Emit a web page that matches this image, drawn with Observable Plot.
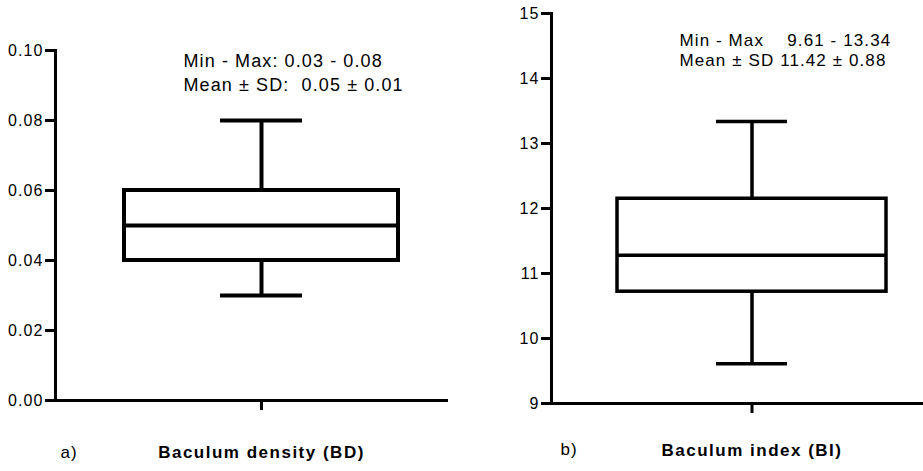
<!DOCTYPE html>
<html>
<head>
<meta charset="utf-8">
<script src="https://cdn.jsdelivr.net/npm/d3@7"></script>
<script src="https://cdn.jsdelivr.net/npm/@observablehq/plot@0.6"></script>
<style>
  html, body { margin: 0; padding: 0; background: #fff; }
  #wrap { display: flex; width: 923px; height: 471px; }
  #wrap svg { display: block; }
  svg text { letter-spacing: 1.1px; }
  g[font-weight="bold"] text { letter-spacing: 1.5px; }
</style>
</head>
<body>
<div id="wrap"></div>
<script>
// ---- data ----
const panelLabels = ["Baculum density (BD)", "Baculum index (BI)"];
const panelLetters = ["a)", "b)"];
// box summary: [min, q1, median, q3, max]
const bdBox = [0.03, 0.04, 0.05, 0.06, 0.08];
const biBox = [9.61, 10.72, 11.28, 12.15, 13.34];
const bdTicks = [0, 0.02, 0.04, 0.06, 0.08, 0.10];
const biTicks = [9, 10, 11, 12, 13, 14, 15];
const bdNote = ["Min - Max: 0.03 - 0.08", "Mean ± SD:\u00a0 0.05 ± 0.01"];
const biNote = ["Min - Max\u00a0\u00a0\u00a0 9.61 - 13.34", "Mean ± SD 11.42 ± 0.88"];

const font = "Arial, 'Liberation Sans', Helvetica, sans-serif";
const TK = 10; // y tick length

function boxPanel(cfg) {
  const [mn, q1, md, q3, mx] = cfg.box;
  const row = [{cat: cfg.label, mn, q1, md, q3, mx}];
  const ml = cfg.ml - TK; // frame starts where the y ticks start
  const frameW = cfg.width - ml - cfg.mr;
  return Plot.plot({
    width: cfg.width, height: 471,
    marginLeft: ml, marginRight: cfg.mr, marginTop: cfg.mt, marginBottom: cfg.mb,
    style: {fontFamily: font, fontSize: "16px", background: "white", color: "black"},
    x: {type: "band", domain: [cfg.label], padding: cfg.pad, insetLeft: cfg.inset + TK, label: null},
    y: {domain: cfg.domain, label: null},
    marks: [
      Plot.axisY({ticks: cfg.ticks, tickFormat: cfg.fmt, tickSize: 0, tickPadding: 2, fontSize: 16, label: null}),
      Plot.frame({anchor: "left", insetLeft: TK, stroke: "black", strokeWidth: 3}),
      Plot.ruleY([cfg.domain[0]], {stroke: "black", strokeWidth: 3, insetLeft: TK}),
      Plot.axisX({tickSize: 10, stroke: "black", strokeWidth: 3, tickFormat: () => "", label: null}),
      Plot.ruleX(row, {x: "cat", y1: "q3", y2: "mx", strokeWidth: cfg.sw}),
      Plot.ruleX(row, {x: "cat", y1: "mn", y2: "q1", strokeWidth: cfg.sw}),
      Plot.tickY(row, {x: "cat", y: "mx", strokeWidth: cfg.sw, insetLeft: cfg.capInset, insetRight: cfg.capInset}),
      Plot.tickY(row, {x: "cat", y: "mn", strokeWidth: cfg.sw, insetLeft: cfg.capInset, insetRight: cfg.capInset}),
      Plot.barY(row, {x: "cat", y1: "q1", y2: "q3", fill: "white", stroke: "black", strokeWidth: cfg.sw, insetLeft: 0, insetRight: 0}),
      Plot.tickY(row, {x: "cat", y: "md", strokeWidth: cfg.sw}),
      Plot.text([cfg.note.join("\n")], {text: d => d, frameAnchor: "top-left", dx: cfg.noteDx + TK, dy: cfg.noteDy,
        textAnchor: "start", lineAnchor: "top", lineHeight: cfg.noteLH, fontSize: cfg.noteFs, fill: "black"}),
      Plot.text([cfg.letter], {text: d => d, frameAnchor: "bottom-left", dx: cfg.letterDx + TK, dy: cfg.letterDy,
        textAnchor: "start", lineAnchor: "bottom", fontSize: 17, fill: "black"}),
      Plot.text([cfg.label], {x: d => d, text: d => d, frameAnchor: "bottom", dy: cfg.labelDy,
        lineAnchor: "bottom", fontSize: 17, fontWeight: "bold", fill: "black"}),
      // y-axis tick marks (drawn last, left of the axis line)
      Plot.tickY(cfg.ticks, {y: d => d, stroke: "black", strokeWidth: 3, insetRight: frameW - TK - 1})
    ]
  });
}

const left = boxPanel({
  label: panelLabels[0], letter: panelLetters[0], box: bdBox, ticks: bdTicks, domain: [0, 0.10],
  fmt: d3.format(".2f"), width: 460, ml: 55, mr: 12, mt: 50, mb: 71, pad: 0.153, inset: 19,
  sw: 4, capInset: 96, note: bdNote, noteDx: 128, noteDy: 0, noteLH: 1.33, noteFs: 18,
  letterDx: 5, letterDy: 57, labelDy: 57
});
const right = boxPanel({
  label: panelLabels[1], letter: panelLetters[1], box: biBox, ticks: biTicks, domain: [9, 15],
  fmt: d3.format("d"), width: 463, ml: 91, mr: 0, mt: 13, mb: 68, pad: 0.118, inset: 30,
  sw: 3.5, capInset: 99, note: biNote, noteDx: 128, noteDy: 18.5, noteLH: 1.18, noteFs: 17,
  letterDx: 9, letterDy: 51, labelDy: 52
});
document.getElementById("wrap").append(left, right);
</script>
</body>
</html>
